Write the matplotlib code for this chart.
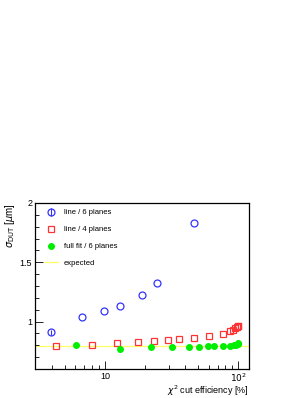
import matplotlib
matplotlib.use("Agg")
import matplotlib.pyplot as plt
from matplotlib.ticker import FixedLocator, NullFormatter, MultipleLocator

plt.rcParams['font.family'] = ['Liberation Sans', 'DejaVu Sans']

# line / 6 planes
eff6 = [3.93, 6.7, 9.8, 12.9, 19.0, 24.6, 46.9]
sig6 = [0.909, 1.037, 1.093, 1.133, 1.226, 1.328, 1.828]
err6 = [0.02, 0.0, 0.0, 0.0, 0.0, 0.0, 0.0]

# line / 4 planes
eff4 = [4.34, 8.07, 12.4, 17.8, 23.5, 29.8, 35.8, 46.4, 60.5, 76.7, 86.6, 91.7, 95.0, 97.5, 99.0, 99.8]
sig4 = [0.794, 0.800, 0.816, 0.828, 0.833, 0.845, 0.850, 0.862, 0.879, 0.898, 0.921, 0.930, 0.946, 0.955, 0.960, 0.963]

# full fit / 6 planes
effF = [6.05, 13.1, 22.3, 32.0, 42.5, 50.9, 58.8, 66.1, 76.2, 86.0, 92.5, 96.0, 98.5, 99.8]
sigF = [0.800, 0.768, 0.786, 0.783, 0.786, 0.789, 0.792, 0.792, 0.795, 0.797, 0.800, 0.805, 0.810, 0.819]

expected = 0.795

fig = plt.figure(figsize=(3.08, 3.98), dpi=100)
ax = fig.add_axes([0.1136, 0.0729, 0.6948, 0.4171])

hE = ax.axhline(expected, color='#ffff66', lw=0.9, zorder=1)
h6 = ax.errorbar(eff6, sig6, yerr=err6, fmt='o', mfc='none', mec='#3333ff', ecolor='#3333ff',
                 ms=5, mew=0.9, elinewidth=0.8, capsize=0, zorder=3)
h4, = ax.plot(eff4, sig4, 's', mfc='none', mec='#ff3333', ms=5, mew=0.9, zorder=3)
hF, = ax.plot(effF, sigF, 'o', color='#00ee00', ms=4, zorder=4)

ax.set_xscale('log')
ax.set_xlim(3, 120)
ax.set_ylim(0.6, 2.0)

ax.xaxis.set_major_locator(FixedLocator([10, 100]))
ax.set_xticklabels(['10', r'$10^{2}$'])
ax.xaxis.set_minor_locator(FixedLocator([3, 4, 5, 6, 7, 8, 9, 20, 30, 40, 50, 60, 70, 80, 90]))
ax.xaxis.set_minor_formatter(NullFormatter())
ax.yaxis.set_major_locator(FixedLocator([1.0, 1.5, 2.0]))
ax.set_yticklabels(['1', '1.5', '2'])
ax.yaxis.set_minor_locator(MultipleLocator(0.1))

ax.tick_params(which='both', direction='in', top=False, right=False, labelsize=6.5, pad=2)
ax.tick_params(which='major', length=6, width=0.6)
ax.tick_params(which='minor', length=3, width=0.6)
for s in ax.spines.values():
    s.set_linewidth(0.9)

ax.set_xlabel(r'$\chi^{2}$ cut efficiency [%]', fontsize=6.5, loc='right', labelpad=0)
ax.xaxis.set_label_coords(1.0, -0.088)
ax.set_ylabel(r'$\sigma_{\mathrm{DUT}}$ [$\mu$m]', fontsize=7, loc='top', labelpad=2)

ax.legend([h6, h4, hF, hE], ['line / 6 planes', 'line / 4 planes', 'full fit / 6 planes', 'expected'],
          loc='upper left', frameon=False,
          fontsize=5.5, handlelength=1.6, labelspacing=1.25, borderaxespad=0.4,
          bbox_to_anchor=(0.02, 1.0))

fig.savefig('out.png', dpi=100)
